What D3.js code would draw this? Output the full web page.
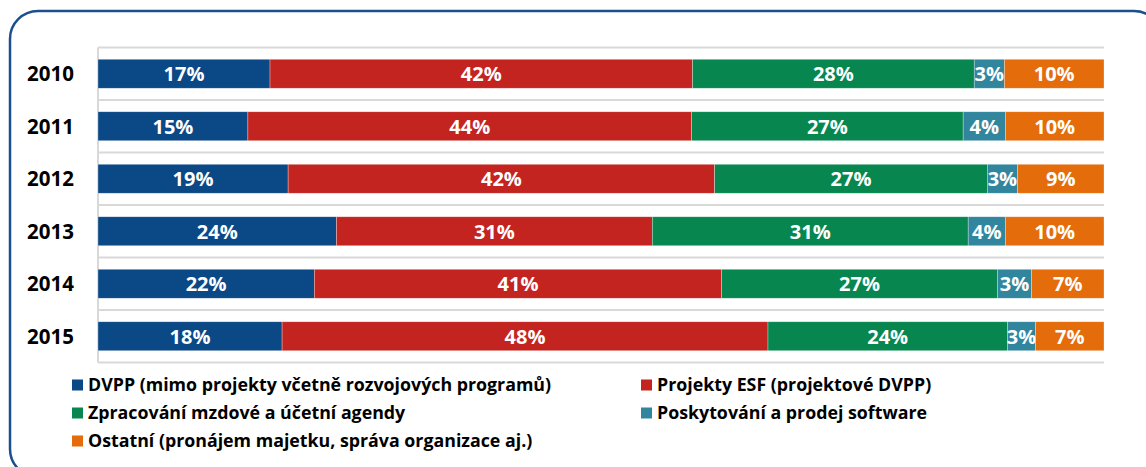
<!DOCTYPE html>
<html>
<head>
<meta charset="utf-8">
<script src="https://cdn.jsdelivr.net/npm/d3@7"></script>
<style>
  body { margin: 0; background: #fff; }
  svg { display: block; font-family: "Open Sans", sans-serif; }
</style>
</head>
<body>
<div id="chart"></div>
<script>
// categories and series (shares in %)
const years = ['2010', '2011', '2012', '2013', '2014', '2015'];
const keys = ['dvpp', 'esf', 'mzdy', 'software', 'ostatni'];
const seriesNames = [
  'DVPP (mimo projekty včetně rozvojových programů)',
  'Projekty ESF (projektové DVPP)',
  'Zpracování mzdové a účetní agendy',
  'Poskytování a prodej software',
  'Ostatní (pronájem majetku, správa organizace aj.)'
];
const dvpp     = [17.1, 14.9, 18.9, 23.7, 21.5, 18.3];
const esf      = [42.0, 44.1, 42.4, 31.4, 40.5, 48.3];
const mzdy     = [28.0, 27.0, 27.1, 31.4, 27.4, 23.8];
const software = [3.0, 4.2, 3.0, 3.7, 3.4, 2.8];
const ostatni  = [9.9, 9.8, 8.6, 9.8, 7.2, 6.8];
const colors = ['#0b4886', '#c32420', '#07874f', '#31869e', '#e46c0b'];

const rows = years.map((y, i) => ({
  year: y, dvpp: dvpp[i], esf: esf[i], mzdy: mzdy[i], software: software[i], ostatni: ostatni[i]
}));

const width = 1146, height = 467;
const svg = d3.select('#chart').append('svg')
  .attr('width', width)
  .attr('height', height);

// rounded frame
svg.append('rect')
  .attr('x', 10).attr('y', 11)
  .attr('width', 1152).attr('height', 466)
  .attr('rx', 28).attr('ry', 28)
  .attr('fill', 'none')
  .attr('stroke', '#1c4f8e')
  .attr('stroke-width', 2.5);

const x = d3.scaleLinear().domain([0, 100]).range([98, 1104]);
const y = d3.scaleBand().domain(years).range([47.5, 362.5])
  .paddingInner(0.448).paddingOuter(0.224);

// gridlines at category boundaries
const step = y.step();
svg.append('g').selectAll('line')
  .data(d3.range(years.length + 1))
  .enter().append('line')
  .attr('x1', x(0)).attr('x2', x(100))
  .attr('y1', d => y.range()[0] + d * step)
  .attr('y2', d => y.range()[0] + d * step)
  .attr('stroke', '#d9d9d9')
  .attr('stroke-width', 2);

svg.append('line')
  .attr('x1', x(0)).attr('x2', x(0))
  .attr('y1', y.range()[0]).attr('y2', y.range()[1])
  .attr('stroke', '#d9d9d9')
  .attr('stroke-width', 2);

const stacked = d3.stack().keys(keys)(rows);

const layer = svg.append('g').selectAll('g')
  .data(stacked)
  .enter().append('g')
  .attr('fill', (d, i) => colors[i]);

layer.selectAll('rect')
  .data(d => d)
  .enter().append('rect')
  .attr('x', d => x(d[0]))
  .attr('y', d => y(d.data.year))
  .attr('width', d => x(d[1]) - x(d[0]))
  .attr('height', y.bandwidth())
  .attr('stroke', '#ffffff')
  .attr('stroke-opacity', 0.5)
  .attr('stroke-width', 0.6);

layer.selectAll('text')
  .data(d => d.map(v => Object.assign(v, { key: d.key })))
  .enter().append('text')
  .attr('x', d => (x(d[0]) + x(d[1])) / 2)
  .attr('y', d => y(d.data.year) + y.bandwidth() / 2)
  .attr('dy', '0.37em')
  .attr('text-anchor', 'middle')
  .attr('fill', '#fff')
  .attr('font-weight', 'bold')
  .attr('font-size', '20px')
  .text(d => Math.round(d.data[d.key]) + '%');

// year labels
svg.append('g').selectAll('text')
  .data(years)
  .enter().append('text')
  .attr('x', 74)
  .attr('y', d => y(d) + y.bandwidth() / 2)
  .attr('dy', '0.37em')
  .attr('text-anchor', 'end')
  .attr('font-weight', 'bold')
  .attr('font-size', '20.5px')
  .attr('fill', '#000')
  .text(d => d);

// legend
const legendX = [72, 641];
const legendY = [385, 413, 441];
const legend = svg.append('g').selectAll('g')
  .data(seriesNames)
  .enter().append('g')
  .attr('transform', (d, i) => `translate(${legendX[i % 2]},${legendY[Math.floor(i / 2)]})`);

legend.append('rect')
  .attr('x', 0).attr('y', -5.5)
  .attr('width', 11).attr('height', 11)
  .attr('fill', (d, i) => colors[i]);

legend.append('text')
  .attr('x', 16)
  .attr('dy', '0.36em')
  .attr('font-weight', 'bold')
  .attr('font-size', '17.8px')
  .attr('fill', '#000')
  .text(d => d);
</script>
</body>
</html>
